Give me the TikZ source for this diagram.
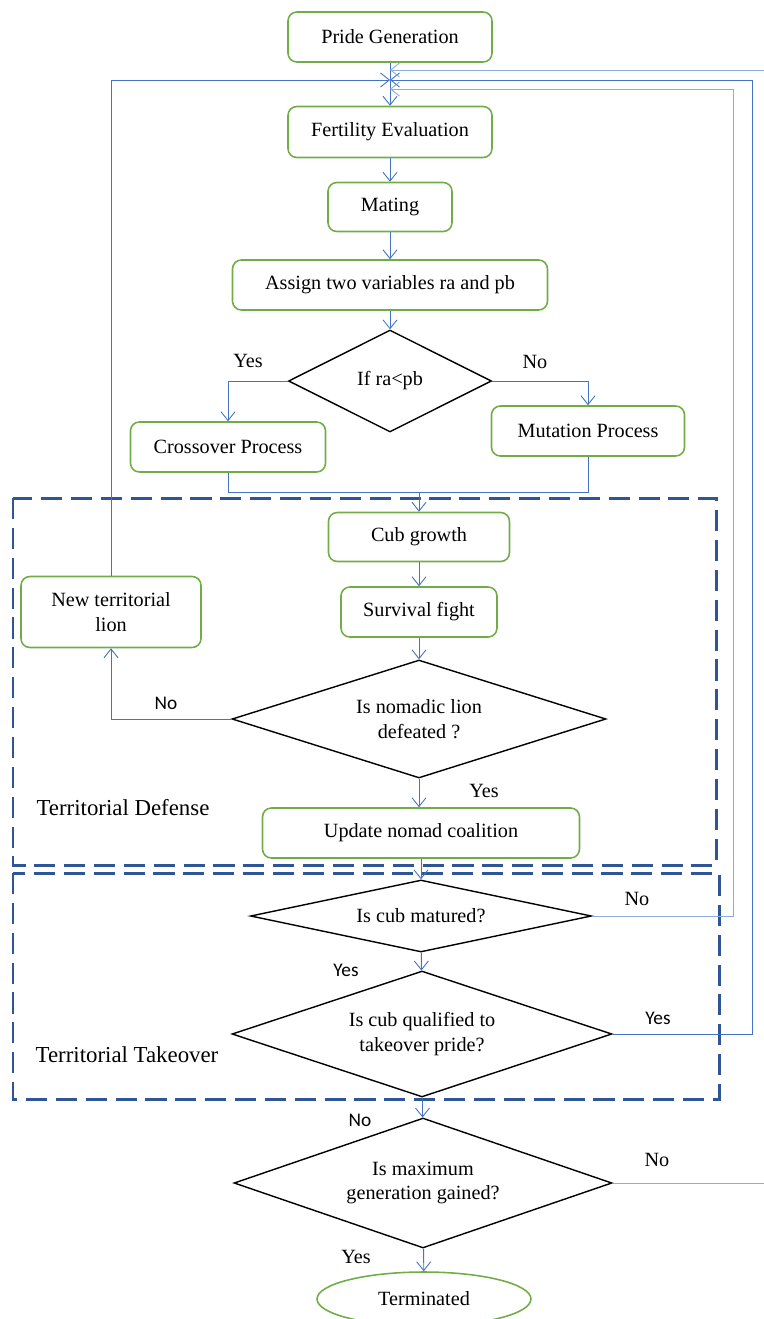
\documentclass[tikz,border=0pt]{standalone}
\usepackage{fontspec}
\setmainfont{Liberation Serif}
\newfontfamily\labelsans{Carlito}
\usetikzlibrary{shapes.geometric,arrows.meta}
\definecolor{boxgreen}{HTML}{70AD47}
\definecolor{lineblue}{HTML}{4472C4}
\definecolor{paleblue}{HTML}{8FAADC}
\definecolor{regionblue}{HTML}{2F5597}
\tikzset{
  procbox/.style={draw=boxgreen,line width=0.9pt,rounded corners=5pt,inner sep=0pt,align=center},
  decision/.style={diamond,draw=black,line width=0.8pt,inner sep=0pt,align=center},
  arr/.style={draw=lineblue,line width=0.5pt,-{Straight Barb[length=5pt,width=8pt]}},
  link/.style={draw=lineblue,line width=0.5pt},
  region/.style={draw=regionblue,line width=1.7pt,dash pattern=on 12pt off 5pt},
  regionlbl/.style={font=\fontsize{13}{15}\selectfont},
  serlbl/.style={inner sep=1pt},
  sanslbl/.style={inner sep=1pt,font=\labelsans\fontsize{11}{13}\selectfont},
}
\begin{document}
\begin{tikzpicture}[x=0.02cm,y=-0.02cm,font=\fontsize{11.5}{14}\selectfont]
\useasboundingbox (0,0) rectangle (764,1319);
% the two phases
\draw[region] (13,498) rectangle (716,865);
\draw[region] (13,873) rectangle (719,1099);
\node[regionlbl] (defense) at (123,808) {Territorial Defense};
\node[regionlbl] (takeover) at (127,1055) {Territorial Takeover};

% steps
\node[procbox,minimum width=4.08cm,minimum height=1cm] (pride) at (390,37) {Pride Generation};
\node[procbox,minimum width=4.08cm,minimum height=1.02cm] (fert) at (390,132) {Fertility Evaluation};
\node[procbox,minimum width=2.48cm,minimum height=0.98cm] (mating) at (390,207) {Mating};
\node[procbox,minimum width=6.3cm,minimum height=1cm] (assign) at (390,285) {Assign two variables ra and pb};
\node[decision,aspect=2,minimum width=4.06cm,minimum height=2.04cm] (ifrapb) at (390,381) {If ra<pb};
\node[procbox,minimum width=3.9cm,minimum height=1cm] (cross) at (228,447) {Crossover Process};
\node[procbox,minimum width=3.86cm,minimum height=1cm] (mut) at (588,431) {Mutation Process};
\node[procbox,minimum width=3.62cm,minimum height=0.98cm] (cub) at (419,537) {Cub growth};
\node[procbox,minimum width=3.12cm,minimum height=1cm] (survival) at (419,612) {Survival fight};
\node[decision,aspect=3.17,minimum width=7.48cm,minimum height=2.36cm] (nomadic) at (419,719) {Is nomadic lion\\defeated ?};
\node[procbox,minimum width=3.6cm,minimum height=1.42cm] (newlion) at (111,612) {New territorial\\lion};
\node[procbox,minimum width=6.34cm,minimum height=1cm] (update) at (421,833) {Update nomad coalition};
\node[decision,aspect=4.74,minimum width=6.82cm,minimum height=1.44cm] (matured) at (421,916) {Is cub matured?};
\node[decision,aspect=3.02,minimum width=7.6cm,minimum height=2.52cm] (qualified) at (422,1034) {Is cub qualified to\\takeover pride?};
\node[decision,aspect=2.9,minimum width=7.56cm,minimum height=2.6cm] (maxgen) at (423,1183) {Is maximum\\generation gained?};
\node[ellipse,draw=boxgreen,line width=0.9pt,inner sep=0pt,minimum width=4.28cm,minimum height=1.08cm] (term) at (424,1299) {Terminated};

\coordinate (j1) at (390,70);
\coordinate (j2) at (390,80);
\coordinate (j3) at (390,89);
\coordinate (merge) at (419,492);

% flow
\draw[arr] (pride) -- (fert);
\draw[arr] (fert) -- (mating);
\draw[arr] (mating) -- (assign);
\draw[arr] (assign) -- (ifrapb);
\draw[arr] (ifrapb.west) -| (cross.north);
\draw[arr] (ifrapb.east) -| (mut.north);
\draw[link] (cross.south) |- (merge);
\draw[link] (mut.south) |- (merge);
\draw[arr] (merge) -- (cub.north);
\draw[arr] (cub) -- (survival);
\draw[arr] (survival) -- (nomadic);
\draw[arr] (nomadic.west) -| (newlion.south);
\draw[arr] (newlion.north) |- (j2);
\draw[arr] (nomadic.south) -- (nomadic.south |- update.north);
\draw[arr] (update) -- (matured);
\draw[arr] (matured) -- (qualified);
\draw[arr] (qualified) -- (maxgen);
\draw[arr] (maxgen) -- (term);
\draw[arr,draw=paleblue] (matured.east) -- ++(141,0) |- (j3);
\draw[arr] (qualified.east) -- ++(140,0) |- (j2);
\draw[arr,draw=paleblue] (maxgen.east) -- ++(170,0) |- (j1);

% answers
\node[serlbl] (yes1) at (248,361) {Yes};
\node[serlbl] (no1) at (535,362) {No};
\node[sanslbl] (no2) at (166,703) {No};
\node[serlbl] (yes2) at (484,791) {Yes};
\node[serlbl] (no3) at (637,899) {No};
\node[sanslbl] (yes3) at (346,970) {Yes};
\node[sanslbl] (yes4) at (658,1018) {Yes};
\node[sanslbl] (no4) at (360,1120) {No};
\node[serlbl] (no5) at (657,1160) {No};
\node[serlbl] (yes5) at (356,1257) {Yes};
\end{tikzpicture}
\end{document}
